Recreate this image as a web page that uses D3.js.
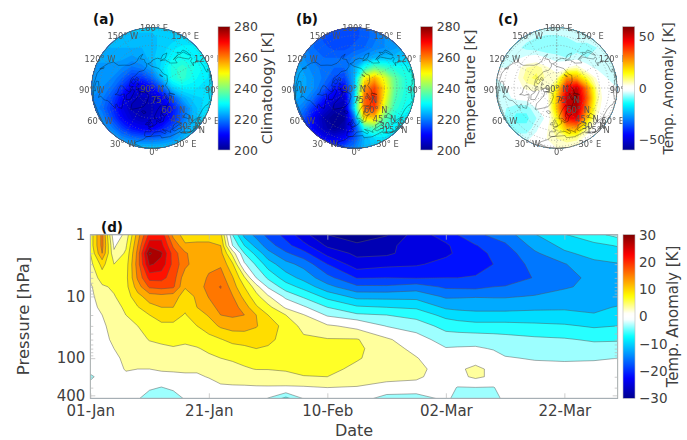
<!DOCTYPE html>
<html>
<head>
<meta charset="utf-8">
<script src="https://cdn.jsdelivr.net/npm/d3@7"></script>
<style>
html, body { margin: 0; background: #fff; }
text { font-family: "DejaVu Sans", sans-serif; }
</style>
</head>
<body>
<div id="canvas"></div>
<script>
const w = 687, h = 440,
    font_color = '#404040',
    box_color = '#b8b8b8';

// Temperature on a 13 x 13 grid laid over each polar disc, rows from top to bottom.
const climatology = [
    [226,226,226,226,226,226,226,226,226,226,226,226,226],
    [225,225,225,225,225,225,225,226,226,227,227,227,227],
    [224,224,224,224,224,224,225,226,228,229,229,228,228],
    [223,223,223,223,222,223,225,227,230,231,230,229,228],
    [222,222,222,221,219,220,223,228,232,234,232,230,228],
    [222,222,221,218,214,214,218,225,232,234,231,229,228],
    [222,221,219,214,208,207,210,217,226,229,229,228,228],
    [221,220,216,210,205,204,205,209,216,223,226,227,228],
    [221,219,214,208,204,203,204,206,211,218,224,227,228],
    [222,221,216,210,206,204,205,207,212,218,224,227,228],
    [224,223,220,215,211,209,209,212,216,221,225,227,228],
    [225,225,224,221,219,218,218,219,221,224,226,227,228],
    [226,226,226,226,226,226,226,226,226,226,226,226,226]
];
const temperature = [
    [221,219,217,216,215,215,216,217,219,221,222,223,224],
    [221,220,218,216,215,215,216,217,219,221,222,223,224],
    [222,220,218,217,216,216,217,218,220,221,222,224,225],
    [223,221,219,218,218,218,220,222,224,225,225,226,227],
    [224,222,220,219,218,218,223,232,238,235,232,231,230],
    [224,223,221,219,216,215,224,250,256,248,238,233,232],
    [224,223,221,217,212,209,224,258,265,252,238,233,232],
    [223,222,218,212,207,205,226,262,268,250,236,232,231],
    [222,219,213,207,203,203,228,262,266,246,234,231,230],
    [220,216,209,203,200,201,218,252,254,238,231,229,228],
    [219,215,209,204,201,203,214,232,236,232,229,228,228],
    [218,216,212,209,208,210,216,224,227,228,227,227,228],
    [219,218,216,215,215,217,220,224,226,227,227,227,228]
];
const map_anomaly = [
    [-2,-2,-3,-3,-3,-3,-3,-3,-3,-2,-2,-2,-2],
    [-3,-3,-4,-5,-6,-7,-7,-6,-5,-5,-4,-3,-2],
    [-4,-4,-5,-7,-8,-9,-8,-7,-7,-7,-6,-4,-3],
    [-4,-5,-4,-2,-1,-3,-5,-6,-5,-6,-6,-5,-4],
    [-3,-3,1,6,8,4,0,3,6,-1,-4,-5,-4],
    [-3,-2,2,8,10,5,6,28,25,12,2,-3,-4],
    [-4,-3,1,4,5,3,16,45,52,30,6,-2,-3],
    [-4,-4,-2,-1,-1,0,22,52,56,35,8,-2,-3],
    [-3,-6,-8,-8,-3,-1,22,50,55,30,6,-3,-3],
    [-2,-7,-10,-10,-6,-2,14,44,48,22,3,-3,-3],
    [-1,-4,-8,-8,-4,2,10,24,26,8,-1,-4,-2],
    [0,-2,-4,-4,-1,3,6,8,7,0,-4,-4,-1],
    [0,0,-1,-1,0,1,3,3,2,0,-2,-2,0]
];

// Time-pressure section: days since 01-Jan, pressure levels, one column per day.
const days = [0,2,4,6,8,10,12,14,16,18,20,22,24,26,28,30,33,36,40,45,50,55,60,62,65,68,70,75,80,85,89];
const pressures = [1,1.5,2,3,5,7,10,15,20,30,50,70,100,150,200,300,450];
const section = [
    [6,6,5,4,2.5,1.5,1,.5,.5,0,0,0,0,0,-3,0,0],
    [15,15,14,9,6.5,4.5,4,3,2,1.5,1,.5,.5,.3,0,0,0],
    [-.5,1.5,2.5,5,5.5,5.5,4.8,4,3.5,3,2.6,2,1.5,1,.5,.3,.2],
    [3,4.5,5.5,6.5,7,7,6.5,5.5,5,4.5,3.5,3,2.5,2.2,1.5,.5,.2],
    [12.5,14,15,15.5,14.5,12.5,10,7.8,7,5,3.8,3,2.5,2,1,.5,-1.5],
    [21,25,29.5,26.5,21,17.5,12.5,10,8,6.5,5.2,3.8,2.8,2,1.2,-1.2,-4.5],
    [22,24,26.5,25,21,18,13,11,9,7.5,5.5,4.5,3,2.2,1.5,-2.2,-5],
    [13,16.5,18.5,19,18.5,17.5,12.5,11,9,7.5,6,4.7,3.5,2.3,1.5,-1,-4.5],
    [9.5,11.5,14.5,15,12,11.3,9.5,8.5,7.8,6.8,5.5,4.5,3.5,2.5,1.5,.3,-1.5],
    [10,11.5,12,12,12,12,11.5,11,9.5,8,6,4.8,3.5,2.5,1.5,.3,-.2],
    [10,11.5,12.5,13,14.5,15.5,14.2,12.8,11.3,9.5,7,5.5,4.5,3.2,2.2,.5,-.3],
    [9,11,12,13.5,15.5,17.2,16,15,14,11.5,7.8,6,5,4,3,1.5,.3],
    [-5,-2,4,8.5,11.3,12.5,14.2,15.5,14.5,12.2,9,6.8,5.3,4.3,3.2,1.6,.3],
    [-12,-8,-5,-1.5,5.5,8,10,12.5,14,12,9.5,7.2,5.8,4.7,3.4,1.6,.3],
    [-15,-12,-9,-5.5,-2,3.5,6,8.5,11,11.2,9.5,8,6,5.1,3.5,1.7,.3],
    [-18,-15.5,-13,-9.5,-5.5,-2.5,2.5,6,8,9.5,9,7.5,6,5.1,3.7,1.7,-2.2],
    [-21,-19,-16.5,-13,-9.5,-6.5,-3,1.5,5,7,6.5,6,6,5.4,4,1.6,-6],
    [-25,-22,-19,-15,-12,-9,-5.5,-1.5,2.2,4,5.6,6,6.2,5.6,4.9,1.6,-1.8],
    [-29,-26.5,-24,-20,-16,-13,-9,-5,-2.5,2.5,5.2,6,6,5.6,5,2,-.5],
    [-31,-28.3,-26.7,-24.7,-20.2,-16.4,-12,-7.5,-4.5,1,5.2,5.5,5.2,4.5,3.6,1.8,-.2],
    [-29.2,-27.5,-26.6,-23.8,-20,-16.5,-12,-8,-5,-2.2,2.6,3.6,4,3.8,3.2,.6,-3.5],
    [-24.6,-23.2,-24.5,-23.4,-20.2,-15.5,-12,-8.5,-6,-3.5,-.5,1,2.2,3,2.6,.6,-4],
    [-21.5,-23.5,-23.6,-22,-20,-17.5,-14.5,-11.5,-9,-6,-3.5,-1.8,-.5,.3,.2,-.5,-1],
    [-20,-22,-22.5,-21.5,-20,-17.6,-14.4,-11.8,-9.6,-6.5,-3.3,-1.7,0,1.4,.8,-2.2,-3.5],
    [-17.8,-20.2,-21,-21,-19.8,-17.8,-14.2,-12,-10,-7,-3.2,-1.6,.5,2.8,2.8,-2.1,-4],
    [-16.3,-18.5,-19.5,-20,-19.2,-17,-14.3,-12,-10,-7,-3.5,-2.2,-.8,1.2,1.2,-2.2,-3.5],
    [-15.5,-17.5,-18.6,-19,-18.8,-16.8,-14.3,-12,-10,-7,-3.8,-2.8,-1.8,-.6,-.3,-.5,-1],
    [-11.2,-13,-14.5,-16,-16.8,-15.5,-13.8,-11.6,-10,-7.3,-4.4,-3.2,-2.2,-1.2,-.7,-.3,-.2],
    [-8.2,-10.2,-11.5,-14.2,-15.3,-14.3,-13,-11.4,-10.2,-7.6,-4.7,-3.5,-2.4,-1.1,-.7,-.3,-.2],
    [-6,-8.8,-10,-11.7,-13,-13.3,-12.8,-11.6,-10.8,-8.4,-5.4,-3.8,-2.3,-1,-.5,-.3,-.2],
    [-4,-7.8,-9.2,-11.2,-12.8,-13,-12.5,-10.8,-9.7,-8,-5.3,-3.7,-2,-1,-.6,-.3,-.2]
];
const contour_levels = [-29,-26,-23,-20,-17,-14,-11,-8,-5,-2,2,5,8,11,14,17,20,23,26,29];
const date_ticks = [0,20,40,60,80];
const date_labels = ['01-Jan','21-Jan','10-Feb','02-Mar','22-Mar'];
const pressure_ticks = [1,10,100,400];
const pressure_minor = [2,3,4,5,6,7,8,9,20,30,40,50,60,70,80,90,200,300];

const lon_labels = [[180,'180° E'],[150,'150° E'],[120,'120° E'],[90,'90° E'],[60,'60° E'],[30,'30° E'],[0,'0°'],
    [-30,'30° W'],[-60,'60° W'],[-90,'90° W'],[-120,'120° W'],[-150,'150° W']];
const lat_labels = [[90,'90° N'],[75,'75° N'],[60,'60° N'],[45,'45° N'],[30,'30° N'],[15,'15° N']];

// Rough coastlines, lon/lat.
const coasts = [
    [[-168,65.5],[-166,68.5],[-156,71.3],[-141,69.7],[-128,70],[-115,68],[-108,68],[-95,68],[-94,72],[-90,69],[-82,69],[-81,67],[-87,64],[-94,61],[-94,58.5],[-88,56.5],[-82,55],[-80,51.5],[-79,54.5],[-77,57],[-78,62],[-70,61],[-66,58.5],[-62,57],[-56,53],[-60,50],[-66,50],[-65,48],[-61,46],[-66,44.5],[-70,43],[-74,40.5],[-76,35.5],[-81,31],[-80,26],[-82,28],[-84,30],[-90,29],[-97,27],[-97,22],[-91,18.5],[-87,21],[-88,16],[-83,12],[-80,9],[-77,8],[-72,12],[-62,10.5],[-52,5],[-50,0]],
    [[-80,7.5],[-86,11],[-95,16],[-105,20],[-110,25],[-113,31],[-110,23],[-115,30],[-120,34.5],[-124,40],[-124,48],[-130,54],[-135,58],[-145,60],[-152,59],[-158,56],[-165,54.5],[-158,58.5],[-165,61],[-165,64],[-168,65.5]],
    [[-45,60],[-52,65],[-54,70],[-60,76],[-72,78],[-60,82],[-35,83.5],[-20,81],[-20,75],[-25,70],[-35,66],[-42,62],[-45,60]],
    [[-80,73],[-72,71],[-62,66],[-66,62],[-75,64],[-78,68],[-88,71],[-80,73]],
    [[-117,70],[-105,69],[-102,72],[-112,73],[-117,70]],
    [[-125,72],[-118,72],[-118,75],[-125,74],[-125,72]],
    [[-88,77],[-75,77],[-62,82],[-75,83],[-90,81],[-88,77]],
    [[-95,75],[-82,75],[-85,77],[-95,75]],
    [[-110,75],[-100,75],[-105,77],[-110,75]],
    [[-24,65],[-18,63.5],[-14,65],[-17,66.5],[-22,66],[-24,65]],
    [[-5,50],[1,51],[1.5,53],[-2,56],[-3,58.5],[-6,57],[-3,54],[-5,52],[-5,50]],
    [[-10,52],[-6,52],[-6,55],[-9,54.5],[-10,52]],
    [[12,78],[20,77],[27,79.5],[18,80.5],[12,78]],
    [[52,71],[57,71],[68,77],[60,76],[52,71]],
    [[95,79],[105,79],[100,81],[95,79]],
    [[137,75],[150,75],[145,76],[137,75]],
    [[-6,36],[-9,37],[-9,43],[-2,43.5],[-1,46],[-5,48],[2,51],[8,54],[8,57],[11,56],[12,54],[19,54.5],[21,57],[24,59],[30,60],[23,60],[21,63],[25,65.5],[22,65.5],[17,61],[18,59],[14,55.5],[11,59],[5,59],[5,62],[14,68],[25,71],[40,67.5],[35,64.5],[40,65],[44,68],[55,69],[68,69],[67,72],[73,73],[74,67],[74,72],[85,74],[100,77],[113,74],[130,71],[140,72.5],[160,70],[180,69],[-170,66],[-178,65],[179,62.5],[170,60],[163,60],[162,55],[157,51],[156,57],[163,62],[155,59],[143,59],[135,54],[141,53],[140,48],[132,43],[128,39],[129,35],[126,35],[125,39],[121,39],[118,39],[122,37],[120,34],[122,30],[119,25],[113,22],[108,21],[106,19],[109,13],[105,9],[100,13],[103,2],[101,3],[98,8],[98,16],[94,16],[91,22],[86,20],[80,15],[78,8],[73,17],[72,21],[67,25],[57,25],[56,27],[50,30],[48,30],[51,25],[56,25],[59,22],[52,16],[43,13],[39,21],[35,28],[33,28]],
    [[32,31],[35,32],[36,36],[28,36.5],[26,40],[29,41],[40,41],[36,45],[30,45],[28,42],[23,40],[23,37],[19,42],[14,45],[18,40],[16,38],[11,43],[3,43],[0,39],[-2,37],[-6,36]],
    [[-6,36],[10,37],[11,33],[20,31],[32,31],[33,28],[37,20],[43,12],[51,12],[42,0]],
    [[-6,36],[-10,30],[-17,21],[-17,14],[-8,4],[5,5],[9,4],[9,0]],
    [[47,45],[53,46],[54,39],[50,37],[49,41],[47,45]],
    [[130,33],[136,34],[141,36],[141,41],[145,44],[141,45],[139,38],[133,35.5],[130,33]],
    [[142,46],[143,50],[143,54],[142,50],[142,46]]
];

const svg = d3.select('#canvas').append('svg')
    .attr('width', w)
    .attr('height', h)
    .attr('style', 'display: block; background: #fff');

const defs = svg.append('defs');
defs.append('filter').attr('id', 'soft')
    .attr('x', '-5%').attr('y', '-5%').attr('width', '110%').attr('height', '110%')
    .append('feGaussianBlur').attr('stdDeviation', 0.4);

// Jet and the same jet with a white middle.
const jet = d3.scaleLinear()
    .domain([200, 210, 230, 250, 270, 280])
    .range(['#00008f', '#0000ff', '#00ffff', '#ffff00', '#ff0000', '#800000']);
const white_jet = d3.scaleLinear()
    .domain([-30, -22.5, -7.5, -1, 1, 7.5, 22.5, 30])
    .range(['#00008f', '#0000ff', '#00ffff', '#ffffff', '#ffffff', '#ffff00', '#ff0000', '#800000']);
const white_jet_wide = v => white_jet(v / 2);

function colorbar(x0, y0, bw, bh, domain, color, ticks, tick_size, label, label_size, label_x) {
    const id = 'bar' + Math.round(x0) + '-' + Math.round(y0),
        grad = defs.append('linearGradient').attr('id', id)
            .attr('x1', 0).attr('x2', 0).attr('y1', 1).attr('y2', 0);
    d3.range(0, 1.001, 0.02).forEach(t => {
        grad.append('stop').attr('offset', t)
            .attr('stop-color', color(domain[0] + t * (domain[1] - domain[0])));
    });
    svg.append('rect')
        .attr('x', x0).attr('y', y0).attr('width', bw).attr('height', bh)
        .attr('fill', 'url(#' + id + ')')
        .attr('stroke', box_color).attr('stroke-width', 0.6);
    const scale = d3.scaleLinear().domain(domain).range([y0 + bh, y0]);
    const g = svg.append('g')
        .attr('transform', 'translate(' + (x0 + bw) + ',0)')
        .call(d3.axisRight(scale).tickValues(ticks).tickSize(0).tickPadding(4));
    g.select('.domain').remove();
    g.selectAll('text').attr('font-size', tick_size).attr('fill', font_color)
        .attr('font-family', '"DejaVu Sans", sans-serif');
    svg.append('text')
        .attr('transform', 'translate(' + label_x + ',' + (y0 + bh / 2) + ') rotate(-90)')
        .attr('text-anchor', 'middle').attr('dy', '0.35em')
        .attr('font-size', label_size).attr('fill', font_color)
        .text(label);
}

function polar_map(cx, cy, r, grid, levels, color, low, name, letter, letter_x) {
    const n = grid[0].length,
        m = grid.length,
        clip_id = 'disc-' + name;
    defs.append('clipPath').attr('id', clip_id)
        .append('circle').attr('cx', cx).attr('cy', cy).attr('r', r);

    const cell = d3.scaleLinear().domain([0.5, n - 0.5]).range([-r, r]);
    const to_disc = d3.geoPath(d3.geoTransform({
        point(x, y) { this.stream.point(cx + cell(x), cy + cell(y)); }
    }));
    const filled = d3.contours().size([n, m]).thresholds(levels)(grid.flat());

    const g = svg.append('g').attr('filter', 'url(#soft)');
    const field = g.append('g').attr('clip-path', 'url(#' + clip_id + ')');
    field.append('circle').attr('cx', cx).attr('cy', cy).attr('r', r).attr('fill', color(low));
    field.selectAll('path').data(filled).join('path')
        .attr('d', to_disc)
        .attr('fill', d => color(d.value + (levels[1] - levels[0]) / 2));

    const projection = d3.geoOrthographic()
        .rotate([0, -90, 0])
        .scale(r)
        .translate([cx, cy]);
    const path = d3.geoPath(projection);

    g.append('path')
        .datum(d3.geoGraticule().step([30, 15]).extent([[-180, 0], [180.01, 90.01]])())
        .attr('d', path)
        .attr('fill', 'none')
        .attr('stroke', '#777')
        .attr('stroke-width', 0.5)
        .attr('stroke-dasharray', '1 2');
    g.append('path')
        .datum({ type: 'MultiLineString', coordinates: coasts })
        .attr('d', path)
        .attr('fill', 'none')
        .attr('stroke', '#111')
        .attr('stroke-opacity', 0.8)
        .attr('stroke-width', 0.45);
    g.append('circle').attr('cx', cx).attr('cy', cy).attr('r', r)
        .attr('fill', 'none').attr('stroke', '#555').attr('stroke-width', 0.8);

    const labels = g.append('g')
        .attr('font-size', 8.3).attr('fill', '#555').attr('text-anchor', 'middle');
    lon_labels.forEach(l => {
        const p = projection([l[0], 0]);
        labels.append('text')
            .attr('x', cx + (p[0] - cx) * 1.03 + 2)
            .attr('y', cy + (p[1] - cy) * 1.03 + 2)
            .attr('dy', '0.35em')
            .text(l[1]);
    });
    lat_labels.forEach(l => {
        const p = projection([45, l[0]]);
        labels.append('text')
            .attr('x', p[0]).attr('y', p[1] + 1)
            .attr('dy', '0.35em')
            .text(l[1]);
    });

    svg.append('text')
        .attr('x', letter_x).attr('y', 24)
        .attr('font-size', 13.5).attr('font-weight', 'bold').attr('fill', '#111')
        .text(letter);
}

const climate_levels = d3.range(200, 280, 1.5),
    anomaly_levels = d3.range(-60, 60, 3);

polar_map(152, 88, 60.5, climatology, climate_levels, jet, 200, 'a', '(a)', 93);
polar_map(354.3, 88, 60.5, temperature, climate_levels, jet, 200, 'b', '(b)', 296);
polar_map(556.7, 88, 60.5, map_anomaly, anomaly_levels, white_jet_wide, -60, 'c', '(c)', 498);

colorbar(218, 26.7, 12, 123.3, [200, 280], jet, [200, 220, 240, 260, 280], 12.5, 'Climatology [K]', 14.5, 267);
colorbar(420.7, 26.7, 12, 123.3, [200, 280], jet, [200, 220, 240, 260, 280], 12.5, 'Temperature [K]', 14.5, 470);
colorbar(622.7, 26.7, 12, 123.3, [-60, 60], white_jet_wide, [-50, 0, 50], 12.5, 'Temp. Anomaly [K]', 14, 668);

// Panel (d)
const plot_left = 90.3, plot_right = 617.7, plot_top = 234.7, plot_bottom = 398.3;

const x = d3.scaleLinear().domain([0, 89]).range([plot_left, plot_right]);
const y = d3.scaleLog().domain([1, 447]).range([plot_top, plot_bottom]);

// Grid index to day and to log pressure, the grid is not evenly spaced.
const index_day = d3.scaleLinear().domain(d3.range(days.length)).range(days).clamp(true);
const index_log = d3.scaleLinear().domain(d3.range(pressures.length)).range(pressures.map(Math.log10)).clamp(true);

const section_path = d3.geoPath(d3.geoTransform({
    point(cx, cy) {
        this.stream.point(x(index_day(cx - 0.5)), y(Math.pow(10, index_log(cy - 0.5))));
    }
}));

const flat = [];
pressures.forEach((p, j) => days.forEach((d, i) => flat.push(section[i][j])));

const bands = d3.contours()
    .size([days.length, pressures.length])
    .thresholds(contour_levels)(flat);

const band_mid = (v, i) => i < contour_levels.length - 1 ? (v + contour_levels[i + 1]) / 2 : 30;

defs.append('clipPath').attr('id', 'section-clip')
    .append('rect')
    .attr('x', plot_left).attr('y', plot_top)
    .attr('width', plot_right - plot_left).attr('height', plot_bottom - plot_top);

const plot = svg.append('g').attr('clip-path', 'url(#section-clip)');
plot.append('rect')
    .attr('x', plot_left).attr('y', plot_top)
    .attr('width', plot_right - plot_left).attr('height', plot_bottom - plot_top)
    .attr('fill', white_jet(-30));
plot.selectAll('path').data(bands).join('path')
    .attr('d', section_path)
    .attr('fill', (d, i) => white_jet(band_mid(d.value, i)))
    .attr('stroke', '#555')
    .attr('stroke-opacity', 0.8)
    .attr('stroke-width', 0.6);

svg.append('rect')
    .attr('x', plot_left).attr('y', plot_top)
    .attr('width', plot_right - plot_left).attr('height', plot_bottom - plot_top)
    .attr('fill', 'none').attr('stroke', box_color).attr('stroke-width', 1);

function style_axis(g, size) {
    g.select('.domain').remove();
    g.selectAll('line').attr('stroke', box_color).attr('stroke-width', 0.7);
    g.selectAll('text').attr('font-size', size).attr('fill', font_color)
        .attr('font-family', '"DejaVu Sans", sans-serif');
}

svg.append('g').attr('transform', 'translate(0,' + plot_bottom + ')')
    .call(d3.axisBottom(x).tickValues(date_ticks).tickSize(-5).tickPadding(7)
        .tickFormat((d, i) => date_labels[i]))
    .call(style_axis, 15);
svg.append('g').attr('transform', 'translate(0,' + plot_top + ')')
    .call(d3.axisTop(x).tickValues(date_ticks).tickSize(-5).tickFormat(''))
    .call(style_axis, 15);
svg.append('g').attr('transform', 'translate(' + plot_left + ',0)')
    .call(d3.axisLeft(y).tickValues(pressure_ticks).tickSize(-5).tickPadding(5).tickFormat(d3.format('d')))
    .call(style_axis, 15);
svg.append('g').attr('transform', 'translate(' + plot_left + ',0)')
    .call(d3.axisLeft(y).tickValues(pressure_minor).tickSize(-3).tickFormat(''))
    .call(style_axis, 15);
svg.append('g').attr('transform', 'translate(' + plot_right + ',0)')
    .call(d3.axisRight(y).tickValues(pressure_ticks).tickSize(-5).tickFormat(''))
    .call(style_axis, 15);
svg.append('g').attr('transform', 'translate(' + plot_right + ',0)')
    .call(d3.axisRight(y).tickValues(pressure_minor).tickSize(-3).tickFormat(''))
    .call(style_axis, 15);

svg.append('text')
    .attr('x', (plot_left + plot_right) / 2).attr('y', 436)
    .attr('text-anchor', 'middle')
    .attr('font-size', 16).attr('fill', font_color)
    .text('Date');
svg.append('text')
    .attr('transform', 'translate(23,316) rotate(-90)')
    .attr('text-anchor', 'middle').attr('dy', '0.35em')
    .attr('font-size', 16.5).attr('fill', font_color)
    .text('Pressure [hPa]');
svg.append('text')
    .attr('x', 101).attr('y', 232)
    .attr('font-size', 13.5).attr('font-weight', 'bold').attr('fill', '#111')
    .text('(d)');

colorbar(623, 234.7, 12, 163.6, [-30, 30], white_jet, [-30, -20, -10, 0, 10, 20, 30], 13.5, 'Temp. Anomaly [K]', 15, 673);
</script>
</body>
</html>
